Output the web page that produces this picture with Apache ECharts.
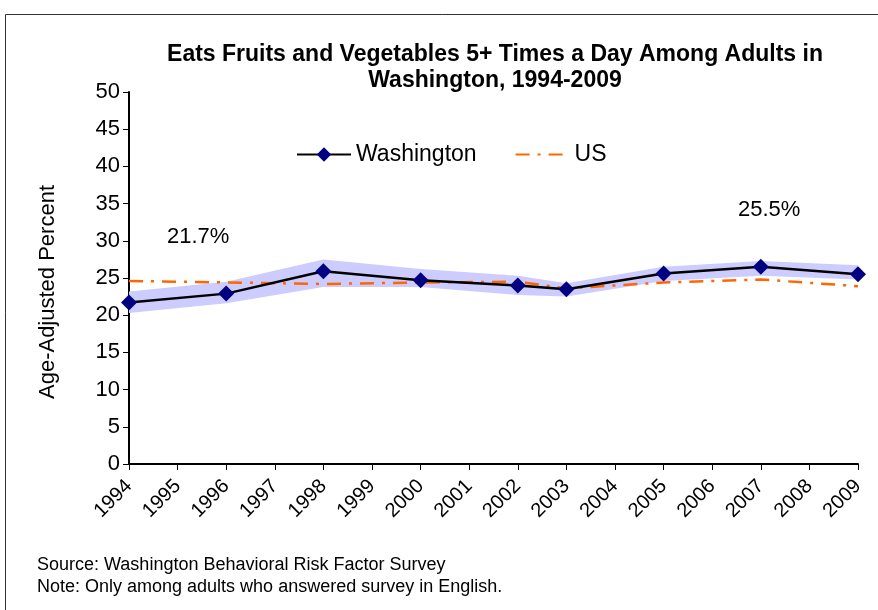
<!DOCTYPE html>
<html>
<head>
<meta charset="utf-8">
<script src="https://cdn.jsdelivr.net/npm/echarts@6/dist/echarts.min.js"></script>
<style>
  html, body { margin: 0; padding: 0; background: #fff; }
  #chart { width: 878px; height: 610px; }
</style>
</head>
<body>
<div id="chart"></div>
<script>
// survey years with data
var years = [1994, 1996, 1998, 2000, 2002, 2003, 2005, 2007, 2009]
var washington = [21.7, 22.9, 25.9, 24.7, 24.0, 23.5, 25.6, 26.5, 25.5]
var us = [24.6, 24.4, 24.2, 24.4, 24.5, 23.6, 24.4, 24.8, 23.9]
// confidence band around Washington
var waLower = [20.3, 21.6, 23.8, 23.8, 22.7, 22.5, 24.6, 25.3, 24.8]
var waUpper = [23.2, 24.5, 27.5, 26.2, 25.3, 24.3, 26.5, 27.3, 26.7]

var font = 'Liberation Sans, Arial, sans-serif'

function pairs (vals) {
  return years.map(function (y, i) { return [y, vals[i]] })
}

var myChart = echarts.init(document.getElementById('chart'))

var option = {
  backgroundColor: '#fff',
  animation: false,
  title: {
    text: 'Eats Fruits and Vegetables 5+ Times a Day Among Adults in\nWashington, 1994-2009',
    left: 490,
    textAlign: 'center',
    top: 37,
    textStyle: {
      fontFamily: font,
      fontWeight: 'bold',
      fontSize: 23,
      lineHeight: 26,
      color: '#000'
    }
  },
  legend: {
    data: ['Washington', { name: 'US', itemStyle: { opacity: 0 } }],
    left: 291,
    top: 138,
    itemWidth: 54,
    itemHeight: 18,
    itemGap: 38,
    textStyle: { fontFamily: font, fontSize: 23, color: '#000' }
  },
  grid: {
    left: 129,
    right: 20,
    top: 92,
    bottom: 146
  },
  xAxis: {
    type: 'value',
    min: 1994,
    max: 2009,
    interval: 1,
    axisLine: { lineStyle: { color: '#000', width: 2 } },
    axisTick: { show: true, length: 6, lineStyle: { color: '#000' } },
    splitLine: { show: false },
    axisLabel: {
      rotate: 45,
      margin: 19,
      color: '#000',
      fontFamily: font,
      fontSize: 20,
      formatter: function (v) { return String(v) }
    }
  },
  yAxis: {
    type: 'value',
    min: 0,
    max: 50,
    interval: 5,
    name: 'Age-Adjusted Percent',
    nameLocation: 'middle',
    nameGap: 70,
    nameTextStyle: { fontFamily: font, fontSize: 22, color: '#000', padding: [0, 28, 0, 0] },
    axisLine: { show: true, lineStyle: { color: '#000', width: 2 } },
    axisTick: { show: true, length: 6, lineStyle: { color: '#000' } },
    splitLine: { show: false },
    axisLabel: { color: '#000', fontFamily: font, fontSize: 22, margin: 9 }
  },
  series: [
    {
      // shaded band between lower and upper limits
      name: 'band',
      type: 'custom',
      silent: true,
      data: pairs(waLower),
      encode: { x: 0, y: 1 },
      renderItem: function (params, api) {
        if (params.dataIndex !== 0) return
        var pts = []
        years.forEach(function (y, i) { pts.push(api.coord([y, waUpper[i]])) })
        for (var i = years.length - 1; i >= 0; i--) {
          pts.push(api.coord([years[i], waLower[i]]))
        }
        return {
          type: 'polygon',
          shape: { points: pts },
          style: { fill: '#ccccff' }
        }
      },
      z: 1
    },
    {
      name: 'US',
      type: 'line',
      data: pairs(us),
      symbol: 'none',
      lineStyle: { color: '#ff6600', width: 2.5, type: [14, 8, 3, 8] },
      itemStyle: { color: '#ff6600' },
      z: 3
    },
    {
      name: 'Washington',
      type: 'line',
      data: pairs(washington),
      symbol: 'diamond',
      symbolSize: 16,
      lineStyle: { color: '#000', width: 2.5 },
      itemStyle: { color: '#000080' },
      z: 4
    }
  ],
  graphic: [
    {
      type: 'rect',
      shape: { x: 5.5, y: 14.5, width: 900, height: 700 },
      style: { fill: 'none', stroke: '#333', lineWidth: 1 },
      z: -10
    },
    {
      type: 'text',
      left: 167,
      top: 226,
      style: { text: '21.7%', font: '22px ' + font, fill: '#000' }
    },
    {
      type: 'text',
      left: 738,
      top: 199,
      style: { text: '25.5%', font: '22px ' + font, fill: '#000' }
    },
    {
      type: 'text',
      left: 37,
      top: 556,
      style: { text: 'Source: Washington Behavioral Risk Factor Survey', font: '18px ' + font, fill: '#000' }
    },
    {
      type: 'text',
      left: 37,
      top: 578,
      style: { text: 'Note: Only among adults who answered survey in English.', font: '18px ' + font, fill: '#000' }
    }
  ]
}

myChart.setOption(option)
</script>
</body>
</html>
